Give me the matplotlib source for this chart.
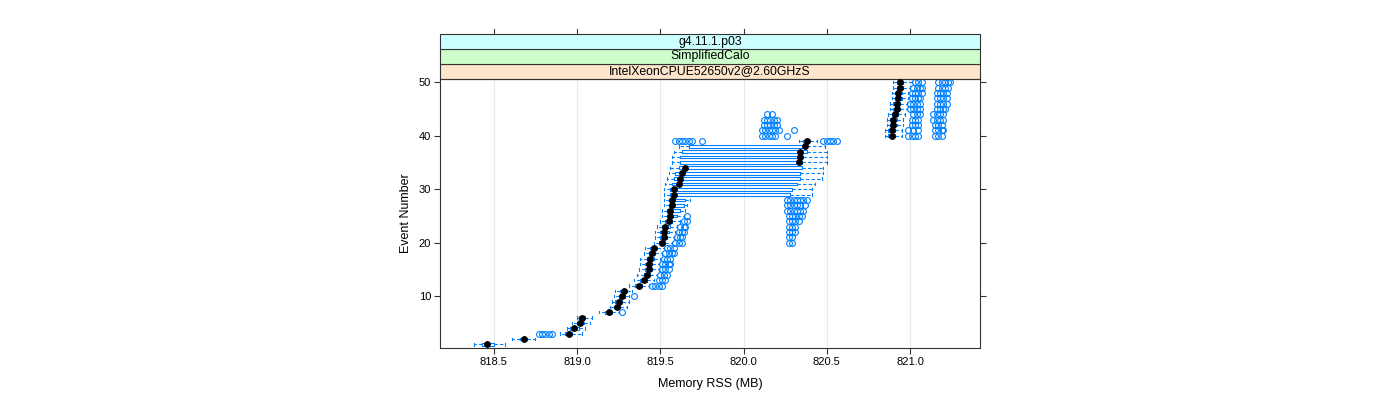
import matplotlib
matplotlib.use("Agg")
import matplotlib.pyplot as plt
from matplotlib.lines import Line2D
from matplotlib.patches import Rectangle

plt.rcParams['font.family'] = ['Liberation Sans', 'DejaVu Sans']

# ---------------- data ----------------
events = list(range(1, 51))
medians = [818.46, 818.68, 818.95, 818.98, 819.02, 819.03, 819.19, 819.24, 819.25, 819.27,
           819.28, 819.37, 819.40, 819.42, 819.43, 819.43, 819.44, 819.45, 819.46, 819.51,
           819.52, 819.52, 819.53, 819.55, 819.56, 819.56, 819.57, 819.57, 819.58, 819.58,
           819.61, 819.62, 819.63, 819.65, 820.33, 820.34, 820.34, 820.37, 820.38, 820.89,
           820.89, 820.90, 820.90, 820.91, 820.92, 820.92, 820.93, 820.93, 820.94, 820.94]
q1s = [818.43, 818.66, 818.93, 818.96, 819.00, 819.01, 819.17, 819.22, 819.23, 819.25,
       819.26, 819.35, 819.38, 819.40, 819.41, 819.41, 819.42, 819.43, 819.44, 819.49,
       819.50, 819.50, 819.51, 819.53, 819.54, 819.54, 819.55, 819.55, 819.56, 819.56,
       819.57, 819.58, 819.59, 819.61, 819.62, 819.62, 819.63, 819.67, 820.36, 820.87,
       820.87, 820.88, 820.88, 820.89, 820.90, 820.90, 820.91, 820.91, 820.92, 820.92]
q3s = [818.50, 818.70, 818.97, 819.01, 819.04, 819.05, 819.21, 819.26, 819.27, 819.29,
       819.30, 819.39, 819.42, 819.44, 819.45, 819.45, 819.46, 819.47, 819.48, 819.53,
       819.54, 819.55, 819.56, 819.57, 819.60, 819.62, 819.64, 819.65, 820.28, 820.29,
       820.32, 820.34, 820.34, 820.35, 820.35, 820.36, 820.38, 820.38, 820.40, 820.91,
       820.91, 820.92, 820.92, 820.93, 820.94, 820.94, 820.95, 820.95, 820.96, 820.96]
whislo = [818.38, 818.61, 818.90, 818.94, 818.97, 819.00, 819.13, 819.20, 819.21, 819.22,
          819.23, 819.31, 819.34, 819.36, 819.37, 819.38, 819.38, 819.40, 819.41, 819.46,
          819.47, 819.47, 819.48, 819.50, 819.51, 819.51, 819.52, 819.52, 819.52, 819.52,
          819.53, 819.54, 819.55, 819.56, 819.57, 819.57, 819.58, 819.61, 820.33, 820.85,
          820.85, 820.86, 820.86, 820.87, 820.88, 820.88, 820.89, 820.89, 820.90, 820.90]
whishi = [818.57, 818.75, 819.03, 819.05, 819.08, 819.09, 819.25, 819.30, 819.31, 819.31,
          819.33, 819.43, 819.46, 819.48, 819.49, 819.49, 819.50, 819.51, 819.52, 819.57,
          819.58, 819.59, 819.60, 819.62, 819.64, 819.65, 819.66, 819.68, 820.41, 820.41,
          820.43, 820.47, 820.48, 820.48, 820.50, 820.50, 820.50, 820.49, 820.44, 820.95,
          820.95, 820.96, 820.96, 820.97, 820.98, 820.98, 820.99, 820.99, 821.00, 821.01]
outliers = {
    3: [818.77, 818.79, 818.81, 818.83, 818.85],
    7: [819.27],
    10: [819.34],
    12: [819.45, 819.47, 819.49, 819.51],
    13: [819.49, 819.51, 819.53],
    14: [819.50, 819.52, 819.54],
    15: [819.51, 819.53, 819.55],
    16: [819.51, 819.53, 819.55, 819.56],
    17: [819.52, 819.54, 819.56],
    18: [819.53, 819.55, 819.57, 819.58],
    19: [819.54, 819.56, 819.58],
    20: [819.59, 819.61, 819.63, 820.27, 820.29],
    21: [819.60, 819.62, 819.63, 820.27, 820.29],
    22: [819.61, 819.63, 819.64, 820.27, 820.29, 820.31],
    23: [819.62, 819.64, 819.65, 820.27, 820.29, 820.31],
    24: [819.64, 819.66, 820.27, 820.29, 820.31, 820.33],
    25: [819.66, 820.27, 820.29, 820.31, 820.33, 820.35],
    26: [820.26, 820.28, 820.30, 820.32, 820.34, 820.36],
    27: [820.26, 820.28, 820.30, 820.32, 820.34, 820.37],
    28: [820.26, 820.28, 820.30, 820.32, 820.34, 820.36, 820.38],
    39: [819.59, 819.61, 819.63, 819.65, 819.67, 819.69, 819.75,
         820.48, 820.50, 820.52, 820.54, 820.56],
    40: [820.11, 820.13, 820.15, 820.17, 820.19, 820.26,
         820.99, 821.01, 821.03, 821.05, 821.15, 821.17, 821.19],
    41: [820.11, 820.13, 820.15, 820.17, 820.19, 820.21, 820.30,
         820.99, 821.02, 821.05, 821.15, 821.17, 821.19, 821.20],
    42: [820.12, 820.14, 820.16, 820.18, 820.20,
         821.01, 821.03, 821.05, 821.15, 821.17, 821.19],
    43: [820.12, 820.14, 820.16, 820.18, 820.20,
         821.01, 821.03, 821.05, 821.14, 821.16, 821.18, 821.20],
    44: [820.14, 820.17, 821.02, 821.04, 821.06, 821.14, 821.16, 821.18, 821.20],
    45: [821.00, 821.02, 821.04, 821.06, 821.16, 821.18, 821.20, 821.21],
    46: [821.00, 821.02, 821.04, 821.06, 821.16, 821.18, 821.20, 821.22],
    47: [821.01, 821.03, 821.05, 821.06, 821.16, 821.18, 821.20, 821.22],
    48: [821.01, 821.03, 821.05, 821.07, 821.16, 821.18, 821.20, 821.22],
    49: [821.02, 821.04, 821.06, 821.07, 821.17, 821.19, 821.21, 821.23],
    50: [821.03, 821.05, 821.07, 821.17, 821.19, 821.21, 821.23, 821.24],
}
x_ticks = [818.5, 819.0, 819.5, 820.0, 820.5, 821.0]
y_ticks = [10, 20, 30, 40, 50]
strip_labels = ["g4.11.1.p03", "SimplifiedCalo", "IntelXeonCPUE52650v2@2.60GHzS"]
strip_colors = ["#ccffff", "#ccffcc", "#ffe5cc"]
x_label = "Memory RSS (MB)"
y_label = "Event Number"

# ---------------- figure ----------------
W, H = 1400, 400
fig = plt.figure(figsize=(14, 4), dpi=100)
px_l, px_r, px_t, px_b = 440, 980, 79.0, 347.6
ax = fig.add_axes([px_l / W, 1 - px_b / H, (px_r - px_l) / W, (px_b - px_t) / H])

blue = "#0080ff"
stats = []
for i, e in enumerate(events):
    stats.append(dict(med=medians[i], q1=q1s[i], q3=q3s[i],
                      whislo=whislo[i], whishi=whishi[i],
                      fliers=outliers.get(e, [])))

kw = dict(positions=events, widths=0.5, capwidths=0.45,
          boxprops=dict(color=blue, linewidth=0.8),
          whiskerprops=dict(color=blue, linewidth=0.8, linestyle=(0, (3, 2))),
          capprops=dict(color=blue, linewidth=0.8),
          medianprops=dict(linewidth=0),
          flierprops=dict(marker='o', markersize=4.2, markerfacecolor='none',
                          markeredgecolor=blue, markeredgewidth=0.8, linestyle='none'),
          manage_ticks=False)
try:
    ax.bxp(stats, orientation='horizontal', **kw)
except TypeError:
    ax.bxp(stats, vert=False, **kw)

ax.plot(medians, events, linestyle='none', marker='o', markersize=3.9,
        color='black', zorder=5)

ax.set_xlim(818.177, 821.42)
ax.set_ylim(0.4, 50.6)
ax.set_xticks(x_ticks)
ax.set_xticklabels([f"{t:.1f}" for t in x_ticks])
ax.set_yticks(y_ticks)
for xv in x_ticks:
    ax.axvline(xv, color='#e8e8e8', linewidth=0.8, zorder=0)

ax.tick_params(direction='out', length=4, width=0.8, labelsize=8, color='#333333',
               right=True, top=False, pad=2.5)
for s in ax.spines.values():
    s.set_color('#333333')
    s.set_linewidth(0.8)
ax.set_xlabel(x_label, fontsize=9, labelpad=8)
ax.set_ylabel(y_label, fontsize=9, labelpad=5)

# strips
strip_h = 15.0
axh = px_b - px_t
for k, (lab, col) in enumerate(zip(reversed(strip_labels), reversed(strip_colors))):
    y0 = 1 + k * strip_h / axh
    r = Rectangle((0, y0), 1, strip_h / axh, transform=ax.transAxes,
                  facecolor=col, edgecolor='#333333', linewidth=0.8, clip_on=False)
    ax.add_patch(r)
    ax.text(0.5, y0 + strip_h / axh / 2, lab, transform=ax.transAxes,
            ha='center', va='center', fontsize=8.8, clip_on=False)

# top ticks above strips
ytop = 1 + 3 * strip_h / axh
trans = ax.get_xaxis_transform()
for xv in x_ticks:
    ax.add_line(Line2D([xv, xv], [ytop, ytop + 5 / axh], transform=trans,
                       color='#333333', linewidth=0.8, clip_on=False))

fig.savefig("out.png", dpi=100)
